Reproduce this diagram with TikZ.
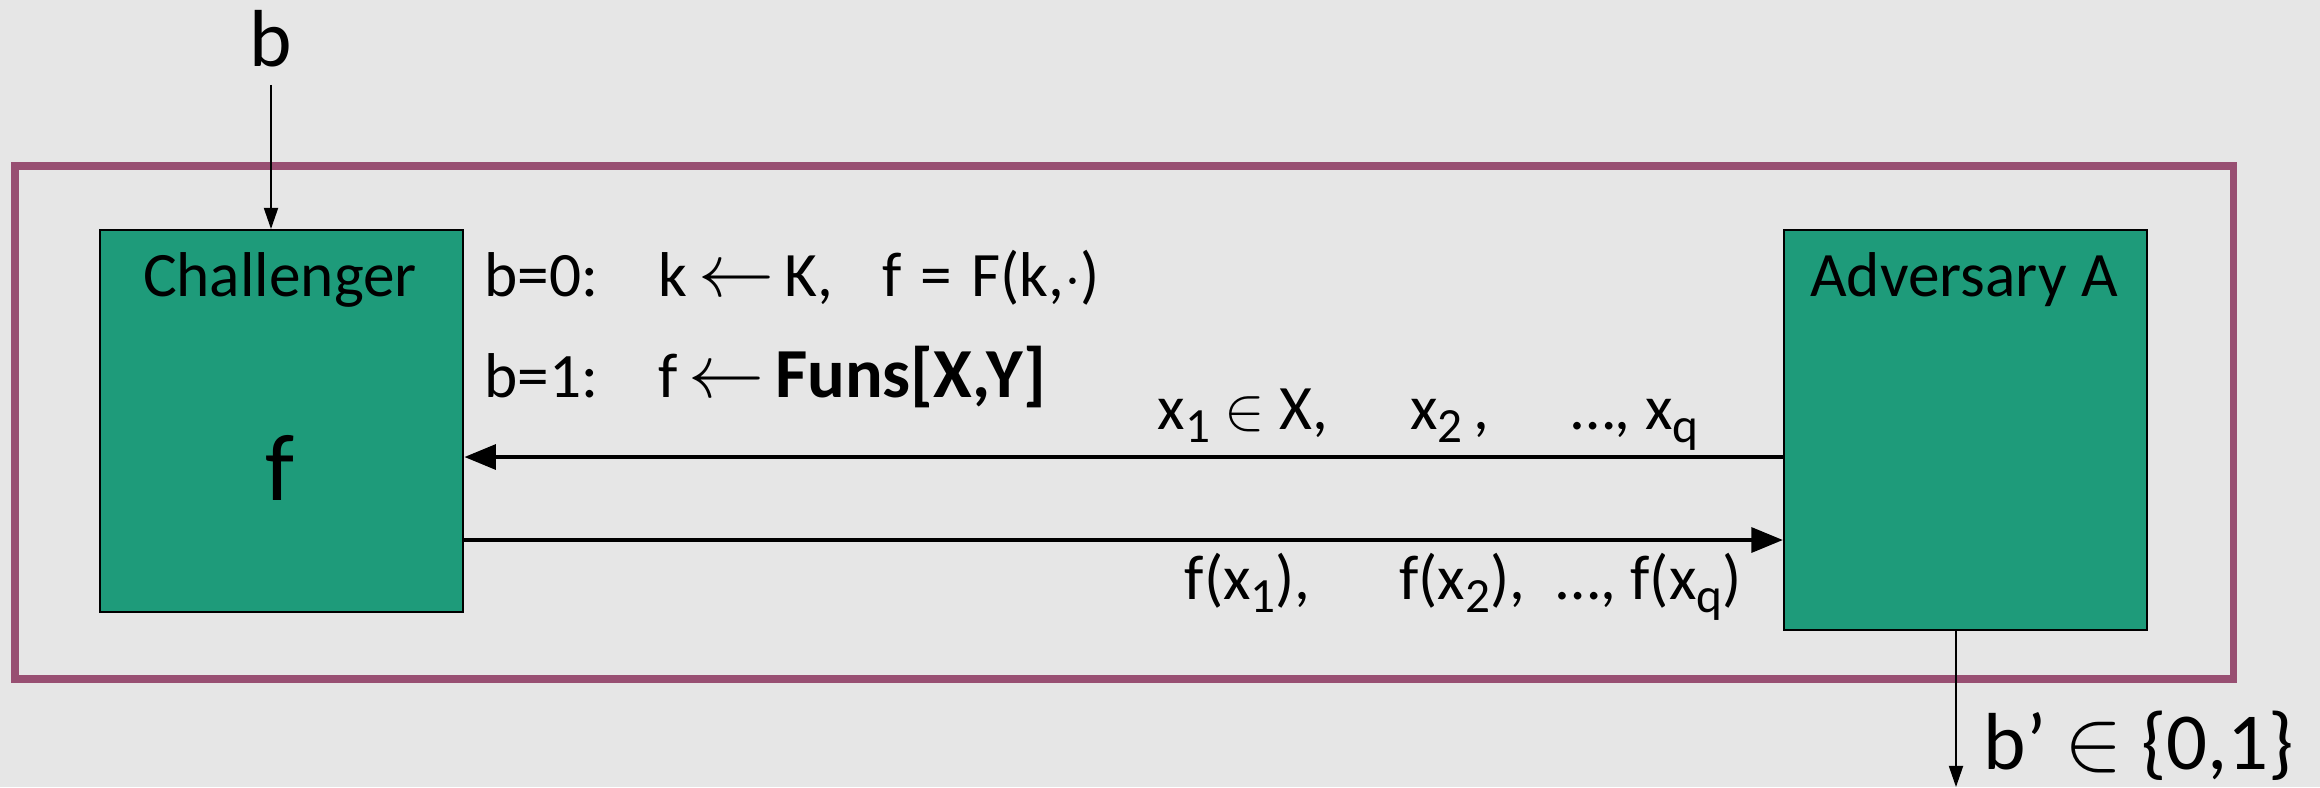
\documentclass[tikz,border=0pt]{standalone}
\usepackage{fontspec}
\setmainfont{Carlito}
\usetikzlibrary{arrows.meta,positioning}
\definecolor{gamebg}{RGB}{230,230,230}
\definecolor{boxteal}{RGB}{30,155,122}
\definecolor{framepurple}{RGB}{152,79,114}
\newcommand{\lowidx}[1]{\raisebox{-0.45ex}{\fontsize{14}{14}\selectfont #1}}
\newcommand{\getsarr}{\,$\mathrel{\scalebox{1.25}{$\leftarrow$}}$\,}
\tikzset{
  party/.style={rectangle, draw=black, line width=0.6pt, fill=boxteal,
                minimum width=3.63cm, minimum height=#1, inner sep=0pt},
  lbl/.style={inner sep=0pt, font=\fontsize{18}{22}\selectfont},
  biglbl/.style={inner sep=0pt, font=\fontsize{23}{27}\selectfont},
  msg/.style={-{Triangle[length=9pt,width=7pt]}, line width=1.3pt},
  bitarr/.style={-{Triangle[length=6pt,width=4pt]}, line width=0.5pt},
}

\begin{document}
\begin{tikzpicture}[x=0.01cm,y=-0.01cm]
  \useasboundingbox[fill=gamebg] (0,0) rectangle (2320,787);
  \draw[framepurple, line width=2pt] (15,166) rectangle (2233,679);
  % the two parties
  \node[party=3.82cm, anchor=north west] (chal) at (99,229) {};
  \node[party=4cm,    anchor=north west] (adv)  at (1783,229) {};
  \node[lbl, anchor=base] (chaltitle) at (280,296) {Challenger};
  \node[lbl, anchor=base] (advtitle)  at (1964,296) {Adversary A};
  \node[inner sep=0pt, font=\fontsize{27}{30}\selectfont, anchor=base] (fval) at (280,500) {f};
  % how f is chosen
  \node[lbl, anchor=base west] (bzero) at (484,296)
    {b=0:\hspace{0.65em} k\getsarr K,\hspace{0.55em} f\hspace{0.3em}=\hspace{0.3em}F(k,$\cdot$)};
  \node[lbl, anchor=base west] (bone)  at (484,397)
    {b=1:\hspace{0.65em} f\getsarr{\fontsize{20}{22}\selectfont\textbf{Funs[X,Y]}}};
  % bits in and out
  \node[biglbl, anchor=base] (bitin) at (271,66) {b};
  \coordinate (bout) at (1956,787);
  \node[biglbl, anchor=base west] (bprime) at (1983,769) {b’ $\in$ \{0,1\}};
  \draw[bitarr, shorten <=5pt] (bitin.south) -- (chal.north -| bitin);
  \draw[bitarr] (adv.south -| bout) -- (bout);
  % queries and answers
  \draw[msg] (adv.west |- 0,457) -- (chal.east |- 0,457);
  \draw[msg] (chal.east |- 0,540) -- (adv.west |- 0,540);
  \node[lbl, anchor=base east] (queries) at (1699,429)
    {x\lowidx{1} $\in$ X,\hspace{1.3em}x\lowidx{2}\,,\hspace{1.3em}…, x\lowidx{q}};
  \node[lbl, anchor=base west] (answers) at (1184,599)
    {f(x\lowidx{1}),\hspace{1.4em}f(x\lowidx{2}),\hspace{0.5em}…, f(x\lowidx{q})};
\end{tikzpicture}
\end{document}
